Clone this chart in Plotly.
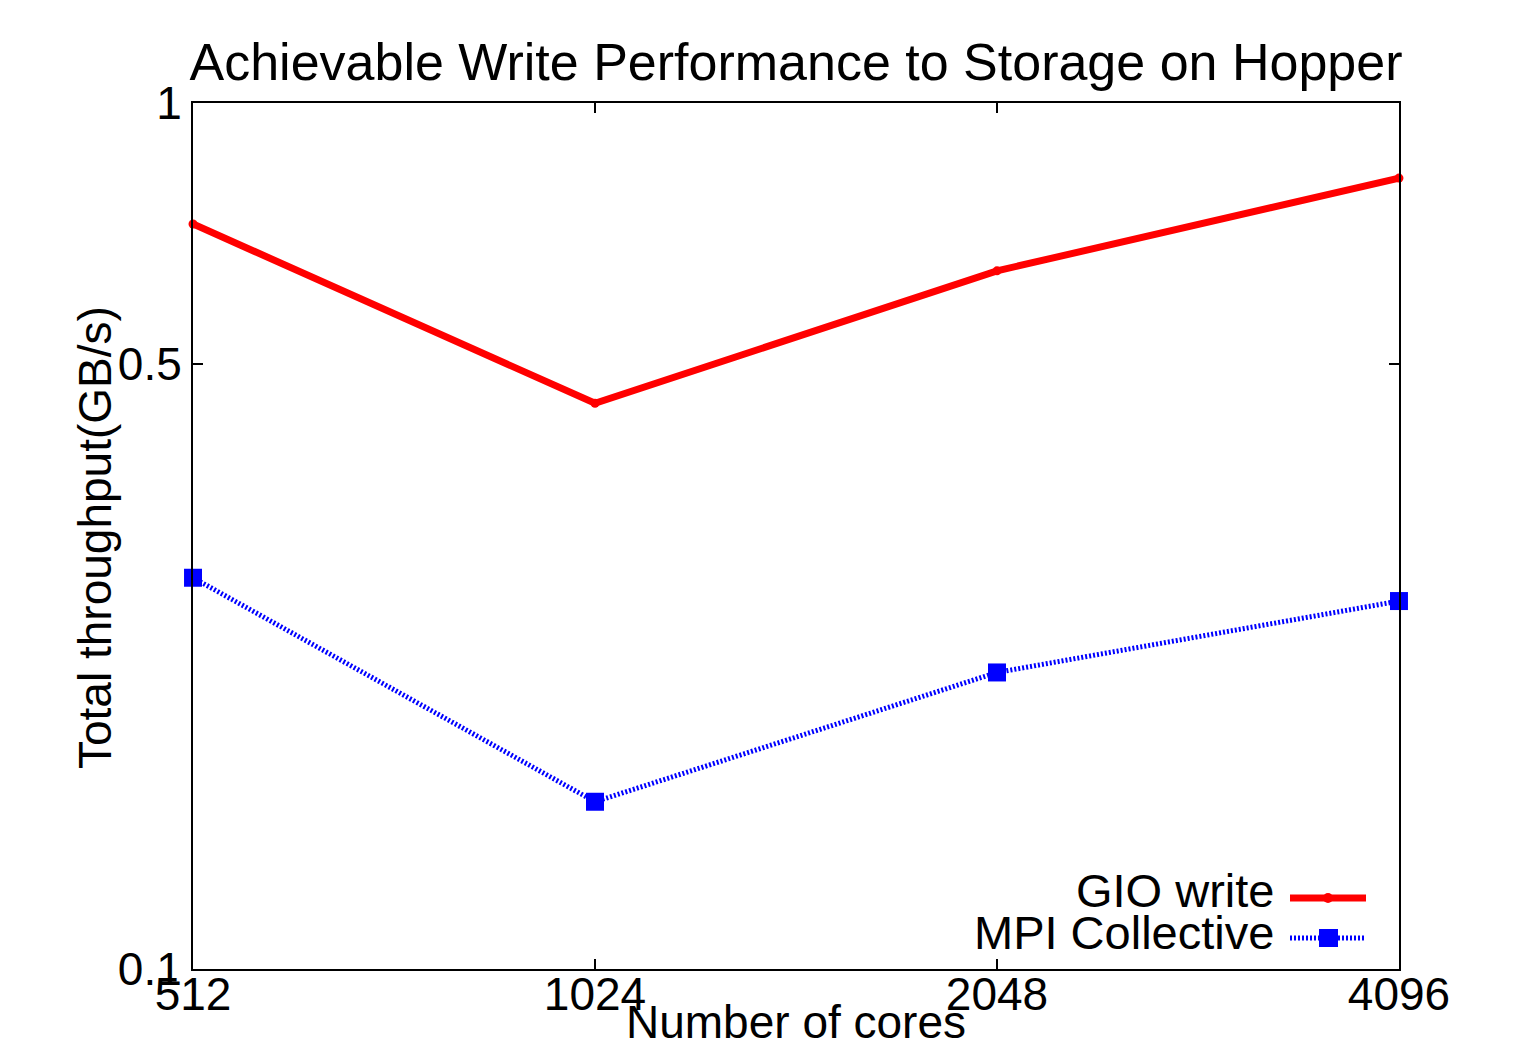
import plotly.graph_objects as go

cores = [512, 1024, 2048, 4096]
gio_write = [0.725, 0.450, 0.640, 0.819]
mpi_collective = [0.283, 0.156, 0.220, 0.266]
x_ticks = [512, 1024, 2048, 4096]
y_ticks = [0.1, 0.5, 1]
y_ticklabels = ["0.1", "0.5", "1"]

FONT = "Liberation Sans, Arial, Helvetica, sans-serif"
FS = 46

fig = go.Figure()
fig.add_trace(go.Scatter(x=cores, y=gio_write, mode="lines+markers", name="GIO write",
                         line=dict(color="#ff0000", width=7),
                         marker=dict(symbol="circle", size=9, color="#ff0000"),
                         cliponaxis=False, showlegend=False))
fig.add_trace(go.Scatter(x=cores, y=mpi_collective, mode="lines+markers", name="MPI Collective",
                         line=dict(color="#0000ff", width=5, dash="2px,2px"),
                         marker=dict(symbol="square", size=18, color="#0000ff"),
                         cliponaxis=False, showlegend=False))

W, H = 1515, 1038
OFF = 8  # page offset of the figure
L, R, T, B = 193, 1399, 103, 969  # plot area in page pixels

def px(x):
    return (x - L) / (R - L)

def py(y):
    return (B - y) / (B - T)

# legend (gnuplot style: text right-aligned, sample to the right)
legend_items = [("GIO write", "#ff0000", 7, "solid", 890, 898, "circle"),
                ("MPI Collective", "#0000ff", 5, "2px,2px", 932, 938, "square")]
for text, col, w, dash, ty, yy, sym in legend_items:
    fig.add_annotation(x=px(1276), y=py(ty), xref="paper", yref="paper", text=text,
                       showarrow=False, xanchor="right", yanchor="middle",
                       font=dict(family=FONT, size=47, color="black"))
    fig.add_shape(type="line", xref="paper", yref="paper",
                  x0=px(1290), x1=px(1366), y0=py(yy), y1=py(yy),
                  line=dict(color=col, width=w, dash=dash))
    if sym == "square":
        fig.add_shape(type="rect", xref="paper", yref="paper",
                      x0=px(1319), x1=px(1338), y0=py(yy + 9), y1=py(yy - 9),
                      fillcolor=col, line=dict(width=0))
    else:
        fig.add_shape(type="circle", xref="paper", yref="paper",
                      x0=px(1323), x1=px(1333), y0=py(yy + 5), y1=py(yy - 5),
                      fillcolor=col, line=dict(width=0))

# axis titles
fig.add_annotation(x=px(796), y=py(1022), xref="paper", yref="paper",
                   text="Number of cores", showarrow=False,
                   xanchor="center", yanchor="middle",
                   font=dict(family=FONT, size=FS, color="black"))
fig.add_annotation(x=px(95), y=py(538), xref="paper", yref="paper",
                   text="Total throughput(GB/s)", showarrow=False, textangle=-90,
                   xanchor="center", yanchor="middle",
                   font=dict(family=FONT, size=FS, color="black"))

fig.update_layout(
    width=W, height=H,
    margin=dict(l=L - OFF, r=W + OFF - R, t=T - OFF, b=H + OFF - B, autoexpand=False),
    paper_bgcolor="white", plot_bgcolor="white",
    font=dict(family=FONT, size=FS, color="black"),
    title=dict(text="Achievable Write Performance to Storage on Hopper",
               xref="paper", x=0.5, xanchor="center",
               y=1 - (62 - OFF) / H, yanchor="middle",
               font=dict(family=FONT, size=52, color="black")),
    xaxis=dict(type="log", range=[2.70925, 3.61238], tickvals=x_ticks,
               ticktext=[str(v) for v in x_ticks],
               ticks="inside", ticklen=10, tickwidth=1.5, tickcolor="black",
               showline=True, linecolor="black", linewidth=2, mirror="ticks",
               showgrid=False, zeroline=False, automargin=False,
               ticklabelstandoff=-16,
               tickfont=dict(family=FONT, size=FS)),
    yaxis=dict(type="log", range=[-1, 0], tickvals=y_ticks, ticktext=y_ticklabels,
               ticks="inside", ticklen=10, tickwidth=1.5, tickcolor="black",
               showline=True, linecolor="black", linewidth=2, mirror="ticks",
               showgrid=False, zeroline=False, automargin=False,
               tickfont=dict(family=FONT, size=FS)),
)

fig.write_html("out.html")
